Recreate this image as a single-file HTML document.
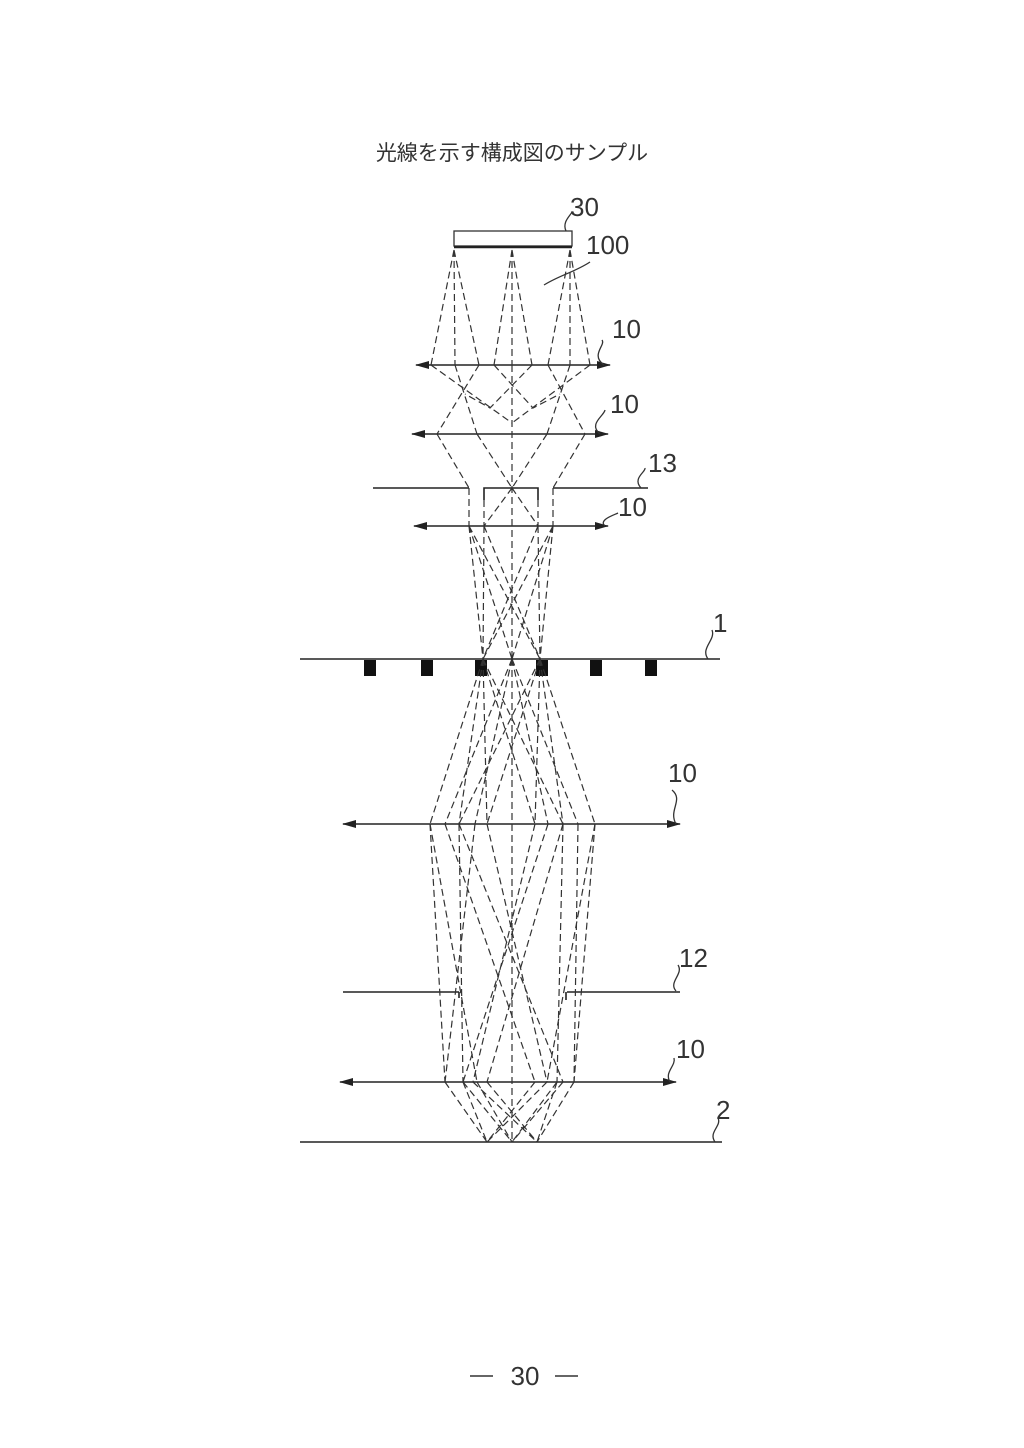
<!DOCTYPE html>
<html><head><meta charset="utf-8"><style>
html,body{margin:0;padding:0;background:#fff;}
svg{display:block;}
</style></head><body>
<svg width="1024" height="1448" viewBox="0 0 1024 1448" xmlns="http://www.w3.org/2000/svg">
<defs>
<marker id="ar" markerWidth="14" markerHeight="8" refX="13" refY="4" orient="auto" markerUnits="userSpaceOnUse">
<path d="M0,0 L14,4 L0,8 Z" fill="#222"/></marker>
<marker id="al" markerWidth="14" markerHeight="8" refX="1" refY="4" orient="auto" markerUnits="userSpaceOnUse">
<path d="M14,0 L0,4 L14,8 Z" fill="#222"/></marker>
</defs>
<rect width="1024" height="1448" fill="#fff"/>
<text x="512" y="160" text-anchor="middle" font-family="Liberation Sans, Noto Sans CJK JP, sans-serif" font-size="21" fill="#333">光線を示す構成図のサンプル</text>

<!-- source 30 -->
<rect x="454" y="231" width="118" height="15" fill="#fff" stroke="#333" stroke-width="1.3"/>
<line x1="454" y1="247" x2="572" y2="247" stroke="#222" stroke-width="2.5"/>

<g stroke="#222" stroke-width="1.6" fill="none">
<!-- lenses -->
<line x1="416" y1="365" x2="610" y2="365" marker-start="url(#al)" marker-end="url(#ar)"/>
<line x1="412" y1="434" x2="608" y2="434" marker-start="url(#al)" marker-end="url(#ar)"/>
<line x1="414" y1="526" x2="608" y2="526" marker-start="url(#al)" marker-end="url(#ar)"/>
<line x1="343" y1="824" x2="680" y2="824" marker-start="url(#al)" marker-end="url(#ar)"/>
<line x1="340" y1="1082" x2="676" y2="1082" marker-start="url(#al)" marker-end="url(#ar)"/>
<!-- aperture 13 -->
<line x1="373" y1="488" x2="469" y2="488"/>
<line x1="553" y1="488" x2="648" y2="488"/>
<polyline points="484,500 484,488 538,488 538,500"/>
<!-- sample 1 -->
<line x1="300" y1="659" x2="720" y2="659"/>
<!-- aperture 12 -->
<line x1="343" y1="992" x2="459" y2="992"/>
<line x1="459" y1="992" x2="459" y2="998"/>
<line x1="567" y1="992" x2="680" y2="992"/>
<line x1="566" y1="992" x2="566" y2="1000"/>
<!-- detector 2 -->
<line x1="300" y1="1142" x2="722" y2="1142"/>
</g>
<g fill="#111">
<rect x="364" y="660" width="12" height="16"/>
<rect x="421" y="660" width="12" height="16"/>
<rect x="475" y="660" width="12" height="16"/>
<rect x="536" y="660" width="12" height="16"/>
<rect x="590" y="660" width="12" height="16"/>
<rect x="645" y="660" width="12" height="16"/>
</g>

<!-- rays -->
<g stroke="#333" stroke-width="1.2" fill="none" stroke-dasharray="7,4">
<!-- source fans -->
<path d="M454,250 L431,365 M454,250 L455,365 M454,250 L479,365"/>
<path d="M512,250 L494,365 M512,250 L512,365 M512,250 L532,365"/>
<path d="M570,250 L548,365 M570,250 L570,365 M570,250 L590,365"/>
<!-- lens1 to lens2 -->
<path d="M431,365 L512,423 M590,365 L512,423"/>
<path d="M479,365 L437,434 M548,365 L585,434"/>
<path d="M455,365 L477,434 M570,365 L547,434"/>
<path d="M494,365 L533,408 L560,394 M532,365 L490,408 L465,394"/>
<path d="M512,365 L512,659"/>
<!-- lens2 to aperture -->
<path d="M437,434 L469,488 M585,434 L553,488"/>
<path d="M477,434 L512,488 M547,434 L512,488"/>
<path d="M469,488 L469,526 M553,488 L553,526"/>
<path d="M512,488 L484,526 M512,488 L538,526 M484,500 L484,526 M538,500 L538,526"/>
<!-- lens3 to sample -->
<path d="M469,526 L483,659 M469,526 L512,659 M469,526 L540,659"/>
<path d="M484,526 L483,659 M484,526 L540,659"/>
<path d="M538,526 L540,659 M538,526 L483,659"/>
<path d="M553,526 L540,659 M553,526 L512,659 M553,526 L483,659"/>
<!-- sample to lens4 -->
<path d="M483,659 L430,824 M483,659 L459,824 M483,659 L535,824 M483,659 L563,824 M483,659 L487,824"/>
<path d="M512,659 L445,824 M512,659 L475,824 M512,659 L548,824 M512,659 L578,824 M512,659 L512,1142"/>
<path d="M540,659 L595,824 M540,659 L563,824 M540,659 L487,824 M540,659 L459,824 M540,659 L535,824"/>
<!-- lens4 to lens5 -->
<path d="M430,824 L477,1082 M445,824 L535,1082 M459,824 L563,1082 M475,824 L445,1082 M487,824 L547,1082"/>
<path d="M535,824 L473,1082 M548,824 L463,1082 M563,824 L487,1082 M578,824 L574,1082 M595,824 L547,1082"/>
<path d="M430,824 L445,1082 M595,824 L574,1082 M459,824 L463,1082 M563,824 L557,1082"/>
<!-- lens5 to detector -->
<path d="M445,1082 L487,1142 M463,1082 L512,1142 M473,1082 L537,1142 M487,1082 L537,1142 M477,1082 L512,1142"/>
<path d="M574,1082 L537,1142 M557,1082 L512,1142 M547,1082 L487,1142 M535,1082 L487,1142 M563,1082 L512,1142"/>
<path d="M463,1082 L487,1142 M557,1082 L537,1142"/>
</g>

<!-- leaders -->
<g stroke="#333" stroke-width="1.3" fill="none">
<path d="M566,231 C562,222 570,216 572,212"/>
<path d="M544,285 C560,275 575,272 590,262"/>
<path d="M604,365 C590,355 606,345 602,340"/>
<path d="M600,434 C588,424 604,416 605,410"/>
<path d="M641,488 C632,478 646,472 645,468"/>
<path d="M605,526 C598,520 614,515 618,513"/>
<path d="M708,659 C700,648 716,640 712,630"/>
<path d="M676,824 C668,810 684,800 672,790"/>
<path d="M676,991 C668,982 684,974 678,965"/>
<path d="M670,1082 C664,1072 676,1066 674,1058"/>
<path d="M715,1142 C708,1132 722,1126 718,1118"/>
</g>
<g font-family="Liberation Sans, sans-serif" font-size="26" fill="#333">
<text x="570" y="216">30</text>
<text x="586" y="254">100</text>
<text x="612" y="338">10</text>
<text x="610" y="413">10</text>
<text x="648" y="472">13</text>
<text x="618" y="516">10</text>
<text x="713" y="632">1</text>
<text x="668" y="782">10</text>
<text x="679" y="967">12</text>
<text x="676" y="1058">10</text>
<text x="716" y="1119">2</text>
</g>
<line x1="470" y1="1376" x2="493" y2="1376" stroke="#333" stroke-width="1.5"/>
<line x1="555" y1="1376" x2="578" y2="1376" stroke="#333" stroke-width="1.5"/>
<text x="525" y="1385" text-anchor="middle" font-family="Liberation Sans, sans-serif" font-size="26" fill="#333">30</text>
</svg>
</body></html>
